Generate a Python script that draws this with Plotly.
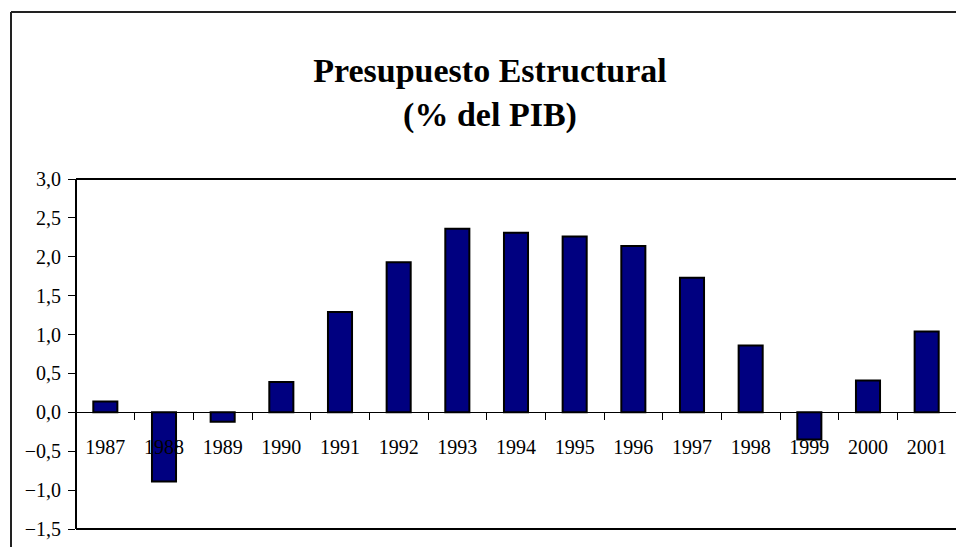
import plotly.graph_objects as go

years = ["1987", "1988", "1989", "1990", "1991", "1992", "1993", "1994",
         "1995", "1996", "1997", "1998", "1999", "2000", "2001"]
values = [0.14, -0.89, -0.12, 0.39, 1.29, 1.93, 2.36, 2.31,
          2.26, 2.14, 1.73, 0.86, -0.35, 0.41, 1.04]

y_min, y_max = -1.5, 3.0
zero_frac = (0 - y_min) / (y_max - y_min)

W, H = 956, 547
# plot area in pixel coordinates: x 76..956+, y 179..529
ml, mt = 76, 179
mr = 0
mb = H - 529
pw, ph = W - ml - mr, H - mt - mb

def px_x(p):
    return (p - ml) / pw

def px_y(p):
    return (H - mb - p) / ph

fig = go.Figure(go.Bar(
    x=years, y=values,
    marker=dict(color="#000080", line=dict(color="black", width=2)),
))

font = "Liberation Serif, Times New Roman, serif"

def hline(y, x0, x1, color):
    return dict(type="line", xref="paper", yref="paper", x0=x0, x1=x1, y0=y, y1=y,
                line=dict(color=color, width=2), layer="above")

def vline(x, y0, y1, color):
    return dict(type="line", xref="paper", yref="paper", x0=x, x1=x, y0=y0, y1=y1,
                line=dict(color=color, width=2), layer="above")

fig.update_layout(
    width=W, height=H,
    margin=dict(l=ml, r=mr, t=mt, b=mb, pad=0),
    paper_bgcolor="white", plot_bgcolor="white",
    separators=",.",
    bargap=0.59,
    showlegend=False,
    font=dict(family=font, color="black", size=20),
    title=dict(
        text="<b>Presupuesto Estructural<br>(% del PIB)</b>",
        x=490 / W, xanchor="center", xref="container",
        y=1 - 82 / H, yanchor="middle", yref="container",
        font=dict(family=font, size=34, color="black"),
    ),
    xaxis=dict(
        type="category", tickson="boundaries",
        ticks="outside", ticklen=7, tickcolor="black", tickwidth=1,
        showline=True, linecolor="black", linewidth=1,
        anchor="free", position=zero_frac,
        showgrid=False, ticklabelstandoff=17,
        tickfont=dict(family=font, size=20, color="black"),
    ),
    yaxis=dict(
        range=[y_min, y_max], dtick=0.5, tick0=0, tickformat=".1f",
        ticks="outside", ticklen=7, tickcolor="black", tickwidth=1,
        showline=False, showgrid=False,
        zeroline=False, ticklabelstandoff=3,
        tickfont=dict(family=font, size=20, color="black"),
    ),
    shapes=[
        # plot-area frame (right side runs past the picture edge)
        hline(1, 0, 1, "black"),
        hline(0, 0, 1, "black"),
        vline(0, 0, 1, "black"),
        # outer chart frame (top and left visible)
        hline(px_y(12), px_x(11), 1, "#222222"),
        vline(px_x(11), px_y(600), px_y(12), "#222222"),
    ],
)

fig.write_html(
    "out.html",
    config={"displayModeBar": False},
    post_script=(
        "document.body.style.margin='0';"
        "document.body.style.overflow='hidden';"
        "document.documentElement.style.overflow='hidden';"
    ),
)
